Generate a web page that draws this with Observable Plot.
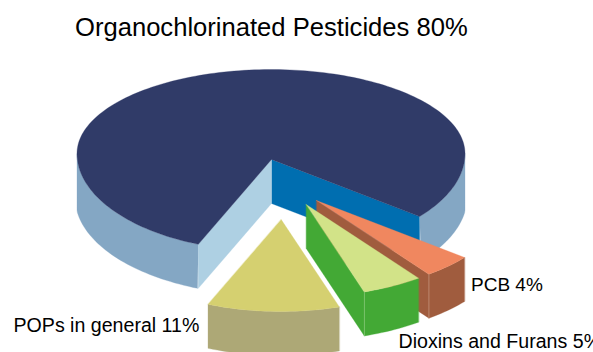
<!DOCTYPE html>
<html>
<head>
<meta charset="utf-8">
<script src="https://cdn.jsdelivr.net/npm/d3@7"></script>
<script src="https://cdn.jsdelivr.net/npm/@observablehq/plot@0.6"></script>
<style>
  html, body { margin: 0; padding: 0; background: #fff; }
  svg { display: block; }
</style>
</head>
<body>
<div id="chart"></div>
<script>
// Shares of the pollutant classes, in percent
const categories = ["PCB", "Dioxins and Furans", "POPs in general", "Organochlorinated Pesticides"];
const shares = [4, 5, 11, 80];

// Colours per category: top surface, outer rim, cut face
const topColors = ["#F0875F", "#D2E388", "#D5D070", "#303B68"];
const rimColors = ["#A05C3E", "#43A935", "#ADA876", "#84A7C4"];
const cutColors = ["#A05C3E", "#43A935", null, "#AED0E3"];
const backCutColor = "#006EB0";
const seamColors = ["#C9997F", "#86C97A", null, null];

// Pie layout in chart units
const W = 593, H = 352;
const centre = {x: 270.5, y: 153};
const apex = {x: 271, y: 159};
const radiusX = 194, radiusBack = 84, radiusFront = 98;
const depth = 44;
const startAngle = 40;
const explode = [[45, 41], [34.7, 45], [9.7, 60], [0, 0]];

const rad = (d) => d * Math.PI / 180;

// Tilted circle: the half toward the viewer is slightly deeper than the far half
function rimPoint(deg, rx = radiusX) {
  const u = Math.cos(rad(deg)), v = Math.sin(rad(deg));
  return {x: centre.x + rx * u, y: centre.y + (v < 0 ? radiusBack : radiusFront) * v};
}
function arc(a0, a1, dx = 0, dy = 0, rx = radiusX) {
  const n = Math.max(2, Math.ceil(Math.abs(a1 - a0) / 1.5));
  return d3.range(n + 1).map((i) => {
    const p = rimPoint(a0 + (a1 - a0) * i / n, rx);
    return {x: p.x + dx, y: p.y + dy};
  });
}

// Angular span of each slice, clockwise on screen
let running = startAngle;
const spans = shares.map((s) => {
  const a0 = running;
  running += s * 3.6;
  return [a0, running];
});

const faces = [];
const seams = [];
const addFace = (id, color, pts) => pts.forEach((p) => faces.push({id, color, x: p.x, y: p.y}));

// Main body first, so the pulled-out slices sit in front of it
{
  const i = 3, [a0, a1] = spans[i];
  const lo = centre.x - radiusX, hi = centre.x + radiusX;
  const clampX = (p) => ({x: Math.min(hi, Math.max(lo, p.x)), y: p.y});
  const wrapped = a1 - 360;
  const endRight = rimPoint(wrapped), endLeft = rimPoint(a0);
  const drop = (p) => ({x: p.x, y: p.y + depth});
  addFace("back-cut", backCutColor, [apex, endRight, drop(endRight), drop(apex)]);
  // Only the rim between the cut and each side extreme faces the viewer
  addFace("rim-right", rimColors[i], [...arc(0, wrapped), ...arc(wrapped, 0, 0, depth, radiusX + 2).map(clampX)]);
  addFace("rim-left", rimColors[i], [...arc(a0, 180), ...arc(180, a0, 0, depth, radiusX + 2).map(clampX)]);
  addFace("cut", cutColors[i], [apex, drop(apex), drop(endLeft), endLeft]);
  addFace("top-main", topColors[i], [apex, ...arc(a0, a1)]);
}

// Pulled-out slices, back to front
[0, 1, 2].forEach((i) => {
  const [a0, a1] = spans[i];
  const [dx, dy] = explode[i];
  const tip = {x: apex.x + dx, y: apex.y + dy};
  const near = rimPoint(a1), nearAt = {x: near.x + dx, y: near.y + dy};
  if (cutColors[i]) {
    addFace(`cut-${i}`, cutColors[i], [tip, nearAt, {x: nearAt.x, y: nearAt.y + depth}, {x: tip.x, y: tip.y + depth}]);
  }
  addFace(`rim-${i}`, rimColors[i], [...arc(a0, a1, dx, dy), ...arc(a1, a0, dx, dy + depth)]);
  addFace(`top-${i}`, topColors[i], [tip, ...arc(a0, a1, dx, dy)]);
  if (seamColors[i]) {
    seams.push({id: i, color: seamColors[i], x: nearAt.x, y: nearAt.y});
    seams.push({id: i, color: seamColors[i], x: nearAt.x, y: nearAt.y + depth});
  }
});

// Labels combine each category with its share
const labelText = categories.map((c, i) => `${c} ${shares[i]}%`);
const labels = [
  {text: labelText[0], x: 470.5, y: 290, size: 19},
  {text: labelText[1], x: 398, y: 347, size: 19.6},
  {text: labelText[2], x: 13, y: 331, size: 19.6},
  {text: labelText[3], x: 74.5, y: 35, size: 25.6}
];

const chart = Plot.plot({
  width: W,
  height: H,
  margin: 0,
  style: {background: "#fff"},
  x: {domain: [0, W], range: [0, W], axis: null},
  y: {domain: [0, H], range: [0, H], axis: null},
  color: {type: "identity"},
  marks: [
    Plot.line(faces, {x: "x", y: "y", z: "id", fill: "color", stroke: "color", strokeWidth: 0.3, curve: "linear-closed"}),
    Plot.line(seams, {x: "x", y: "y", z: "id", stroke: "color", strokeWidth: 0.7}),
    ...labels.map((l) => Plot.text([l], {
      x: "x", y: "y", text: "text", fontSize: l.size, fontFamily: "Liberation Sans",
      textAnchor: "start", lineAnchor: "bottom", fill: "#000"
    }))
  ]
});
document.getElementById("chart").append(chart);
</script>
</body>
</html>
